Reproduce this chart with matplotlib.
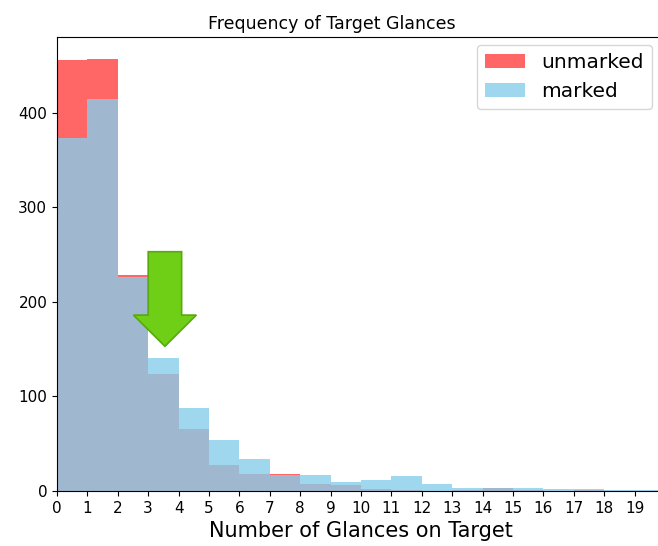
import numpy as np
import matplotlib
matplotlib.use('Agg')
import matplotlib.pyplot as plt
from matplotlib.patches import FancyArrow

# glance counts per bin (0..19)
glances = np.arange(0, 20)
unmarked = [456, 457, 228, 124, 66, 28, 18, 18, 7, 6, 2, 1, 0, 1, 3, 1, 0, 1, 0, 0]
marked = [373, 414, 226, 141, 88, 54, 34, 17, 17, 10, 12, 16, 7, 3, 3, 3, 2, 2, 1, 1]
bin_edges = np.arange(0, 21)

fig = plt.figure(figsize=(6.58, 5.46), dpi=100)
# axes runs a bit past the right edge of the picture (cropped original)
ax = fig.add_axes([0.0866, 0.1007, 0.924, 0.8315])

ax.hist(glances, bins=bin_edges, weights=unmarked, histtype='stepfilled',
        color='red', alpha=0.6, label='unmarked')
ax.hist(glances, bins=bin_edges, weights=marked, histtype='stepfilled',
        color='skyblue', alpha=0.8, label='marked')

# green arrow pointing at bin 3
arrow = FancyArrow(3.55, 253, 0, -100, width=1.1, head_width=2.07,
                   head_length=33, length_includes_head=True,
                   facecolor='#6fcf17', edgecolor='#58a80f', linewidth=1.2,
                   zorder=5)
ax.add_patch(arrow)

ax.set_xlim(0, 20)
ax.set_ylim(0, 480)
ax.set_xticks(np.arange(0, 20))
ax.set_yticks([0, 100, 200, 300, 400])
ax.tick_params(labelsize=11)
ax.set_title('Frequency of Target Glances', fontsize=12.5, x=0.452)
ax.set_xlabel('Number of Glances on Target', fontsize=15)
ax.legend(loc='upper right', bbox_to_anchor=(0.9786, 0.982), borderaxespad=0,
          fontsize=14.5)

fig.savefig('out.png', dpi=100)
